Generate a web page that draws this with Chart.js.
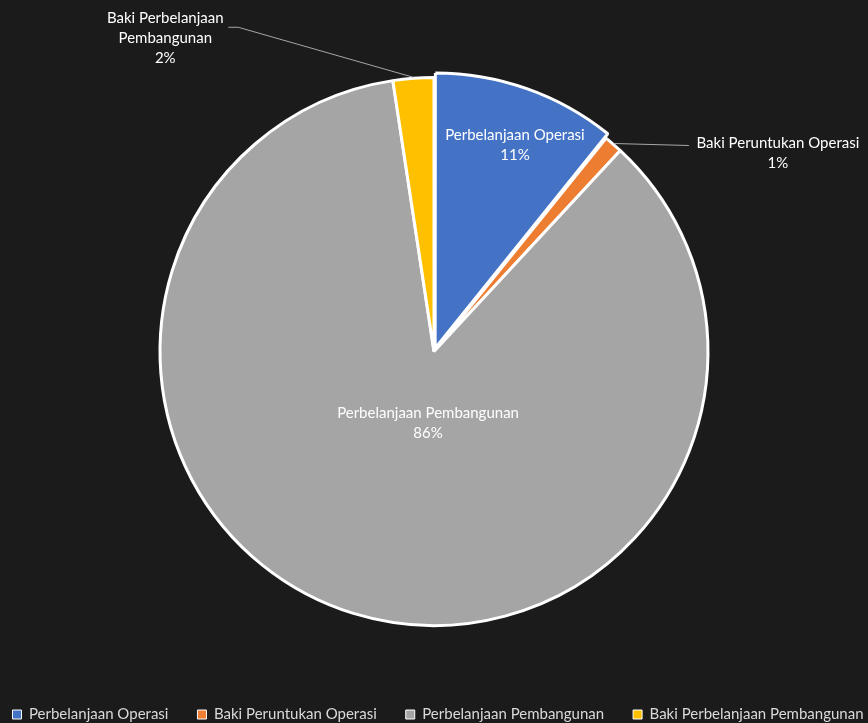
<!DOCTYPE html>
<html>
<head>
<meta charset="utf-8">
<script src="https://cdn.jsdelivr.net/npm/chart.js@4.4.0/dist/chart.umd.min.js"></script>
<style>
  html, body { margin: 0; padding: 0; background: #1b1b1b; }
  #wrap { width: 868px; height: 723px; position: relative; }
</style>
</head>
<body>
<div id="wrap"><canvas id="chart"></canvas></div>
<script>
const categories = ['Perbelanjaan Operasi', 'Baki Peruntukan Operasi', 'Perbelanjaan Pembangunan', 'Baki Perbelanjaan Pembangunan'];
const values = [10.8, 1.1, 85.7, 2.4];
const pctLabels = ['11%', '1%', '86%', '2%'];
const colors = ['#4472c4', '#ed7d31', '#a5a5a5', '#ffc000'];

// how each slice label is placed: inside at a fraction of the radius, or outside with a leader line
const labelStyle = [
  { inside: true, frac: 0.76, shift: [7, 3], lines: ['Perbelanjaan Operasi', pctLabels[0]] },
  { inside: false, leader: [[75, 2]], text: [164, 10], lines: ['Baki Peruntukan Operasi', pctLabels[1]] },
  { inside: true, frac: 0.26, shift: [15, 4], lines: ['Perbelanjaan Pembangunan', pctLabels[2]] },
  { inside: false, leader: [[-175, -50], [-185, -50]], text: [-248, -39], lines: ['Baki Perbelanjaan', 'Pembangunan', pctLabels[3]] }
];

const bgPlugin = {
  id: 'bg',
  beforeDraw(chart) {
    const c = chart.ctx;
    c.save();
    c.fillStyle = '#1b1b1b';
    c.fillRect(0, 0, chart.width, chart.height);
    c.restore();
  }
};

const labelPlugin = {
  id: 'sliceLabels',
  afterDatasetsDraw(chart) {
    const c = chart.ctx;
    const arcs = chart.getDatasetMeta(0).data;
    c.save();
    c.font = '15px Lato';
    c.textAlign = 'center';
    c.textBaseline = 'middle';
    arcs.forEach((arc, i) => {
      const p = arc.getProps(['x', 'y', 'startAngle', 'endAngle', 'outerRadius']);
      const mid = (p.startAngle + p.endAngle) / 2;
      const off = arc.options.offset || 0;
      const cx = p.x + Math.cos(mid) * off;
      const cy = p.y + Math.sin(mid) * off;
      const st = labelStyle[i];
      let tx, ty;
      if (st.inside) {
        tx = cx + Math.cos(mid) * p.outerRadius * st.frac + st.shift[0];
        ty = cy + Math.sin(mid) * p.outerRadius * st.frac + st.shift[1];
      } else {
        const ex = cx + Math.cos(mid) * (p.outerRadius + 1);
        const ey = cy + Math.sin(mid) * (p.outerRadius + 1);
        c.strokeStyle = '#a6a6a6';
        c.lineWidth = 1;
        c.beginPath();
        c.moveTo(ex, ey);
        st.leader.forEach(pt => c.lineTo(ex + pt[0], ey + pt[1]));
        c.stroke();
        tx = ex + st.text[0];
        ty = ey + st.text[1];
      }
      const lh = 20;
      const top = ty - (st.lines.length - 1) * lh / 2;
      c.fillStyle = '#ffffff';
      st.lines.forEach((t, k) => c.fillText(t, tx, top + k * lh));
    });
    c.restore();
  }
};

const ctx = document.getElementById('chart').getContext('2d');
const chart = new Chart(ctx, {
  type: 'pie',
  data: {
    labels: categories,
    datasets: [{
      data: values,
      backgroundColor: colors,
      borderColor: '#ffffff',
      borderWidth: 3,
      offset: [14, 0, 0, 0]
    }]
  },
  options: {
    responsive: true,
    maintainAspectRatio: false,
    animation: false,
    radius: 274,
    layout: { padding: { top: 25, left: -36, right: -44, bottom: -9 } },
    plugins: {
      tooltip: { enabled: false },
      legend: {
        position: 'bottom',
        labels: {
          color: '#d9d9d9',
          font: { family: 'Lato', size: 15 },
          boxWidth: 9,
          boxHeight: 9,
          padding: 29,
          generateLabels(chart) {
            return chart.data.labels.map((l, i) => ({
              text: l,
              fillStyle: colors[i],
              strokeStyle: '#ffffff',
              lineWidth: 1,
              fontColor: '#d9d9d9',
              index: i
            }));
          }
        }
      }
    }
  },
  plugins: [bgPlugin, labelPlugin]
});
</script>
</body>
</html>
